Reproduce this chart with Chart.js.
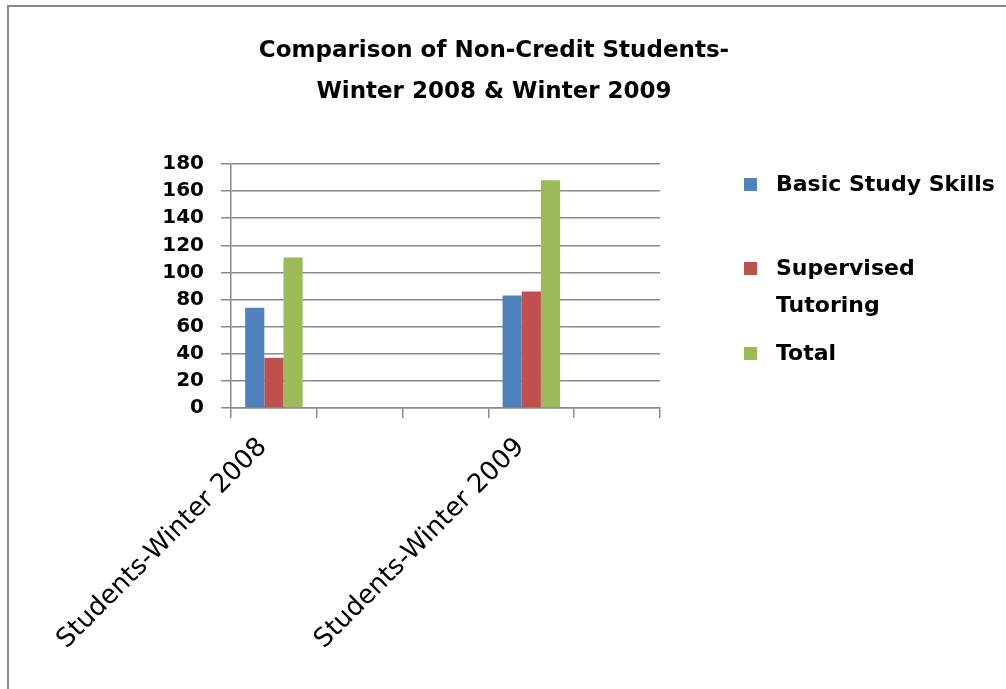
<!DOCTYPE html>
<html lang="en">
<head>
    <meta charset="UTF-8">
    <title>Comparison of Non-Credit Students</title>
    <script src="https://cdn.jsdelivr.net/npm/chart.js"></script>
    <style>
        body {
            margin: 0;
            background: #ffffff;
            overflow: hidden;
        }

        /* outer chart frame, only the top and left edges are in view */
        .frame {
            position: absolute;
            left: 7px;
            top: 5px;
            width: 1200px;
            height: 900px;
            border: 2px solid #8a8a8a;
            box-sizing: border-box;
        }

        canvas {
            position: absolute;
            left: 0;
            top: 0;
        }
    </style>
</head>
<body>

    <div class="frame"></div>
    <canvas id="studentsChart" width="1006" height="689"></canvas>

    <script>
        const categories = ['Students-Winter 2008', '', '', 'Students-Winter 2009', ''];
        const basicStudySkills = [74, null, null, 83, null];
        const supervisedTutoring = [37, null, null, 86, null];
        const totals = [111, null, null, 168, null];
        const seriesNames = ['Basic Study Skills', 'Supervised Tutoring', 'Total'];
        const legendLines = [['Basic Study Skills'], ['Supervised', 'Tutoring'], ['Total']];
        const yTicks = [0, 20, 40, 60, 80, 100, 120, 140, 160, 180];

        const FONT = "'DejaVu Sans', sans-serif";
        const GRID = '#8a8a8a';

        // legend column on the right; registered as a layout box so the
        // title still centres over the whole chart
        const sideLegend = {
            id: 'sideLegend',
            beforeInit(chart) {
                const box = {
                    position: 'right',
                    weight: 0,
                    fullSize: false,
                    options: {},
                    isHorizontal() { return false; },
                    update(maxWidth, maxHeight) {
                        this.width = 328;
                        this.height = maxHeight;
                    },
                    draw() {
                        const ctx = chart.ctx;
                        const rows = [185, 269, 354];
                        ctx.save();
                        ctx.font = 'bold 22px ' + FONT;
                        ctx.textBaseline = 'middle';
                        ctx.textAlign = 'left';
                        chart.data.datasets.forEach((ds, i) => {
                            ctx.fillStyle = ds.backgroundColor;
                            ctx.fillRect(744, rows[i] - 7, 13, 13);
                            ctx.fillStyle = '#000000';
                            legendLines[i].forEach((line, k) => {
                                ctx.fillText(line, 776, rows[i] + k * 37);
                            });
                        });
                        ctx.restore();
                    }
                };
                Chart.layouts.addBox(chart, box);
            }
        };

        const ctx = document.getElementById('studentsChart').getContext('2d');
        const chart = new Chart(ctx, {
            type: 'bar',
            data: {
                labels: categories,
                datasets: [
                    { label: seriesNames[0], data: basicStudySkills, backgroundColor: '#4f81bd' },
                    { label: seriesNames[1], data: supervisedTutoring, backgroundColor: '#c0504d' },
                    { label: seriesNames[2], data: totals, backgroundColor: '#9bbb59' }
                ]
            },
            options: {
                responsive: false,
                animation: false,
                devicePixelRatio: 1,
                layout: { padding: { left: 0, right: 18, top: 0, bottom: 0 } },
                datasets: {
                    bar: { barPercentage: 1, categoryPercentage: 0.67 }
                },
                plugins: {
                    legend: { display: false },
                    tooltip: { enabled: false },
                    title: {
                        display: true,
                        text: ['Comparison of Non-Credit Students-', 'Winter 2008 & Winter 2009'],
                        color: '#000000',
                        font: { family: FONT, size: 23, weight: 'bold', lineHeight: '41px' },
                        padding: { top: 31, bottom: 51 }
                    }
                },
                scales: {
                    x: {
                        offset: true,
                        grid: {
                            offset: true,
                            drawOnChartArea: false,
                            drawTicks: true,
                            tickLength: 10,
                            color: GRID,
                            lineWidth: 1.5
                        },
                        border: { color: GRID, width: 1.5 },
                        ticks: {
                            autoSkip: false,
                            maxRotation: 45,
                            minRotation: 45,
                            padding: 14,
                            labelOffset: -11,
                            color: '#000000',
                            font: { family: FONT, size: 26 }
                        },
                        afterFit(scale) { scale.height = 281; }
                    },
                    y: {
                        min: 0,
                        max: 180,
                        afterBuildTicks(scale) {
                            scale.ticks = yTicks.map(v => ({ value: v }));
                        },
                        grid: {
                            color: GRID,
                            lineWidth: 1.5,
                            tickLength: 10
                        },
                        border: { color: GRID, width: 1.5 },
                        ticks: {
                            padding: 17,
                            color: '#000000',
                            font: { family: FONT, size: 20, weight: 'bold' }
                        },
                        afterFit(scale) { scale.width = 231; }
                    }
                }
            },
            plugins: [sideLegend]
        });
    </script>

</body>
</html>
